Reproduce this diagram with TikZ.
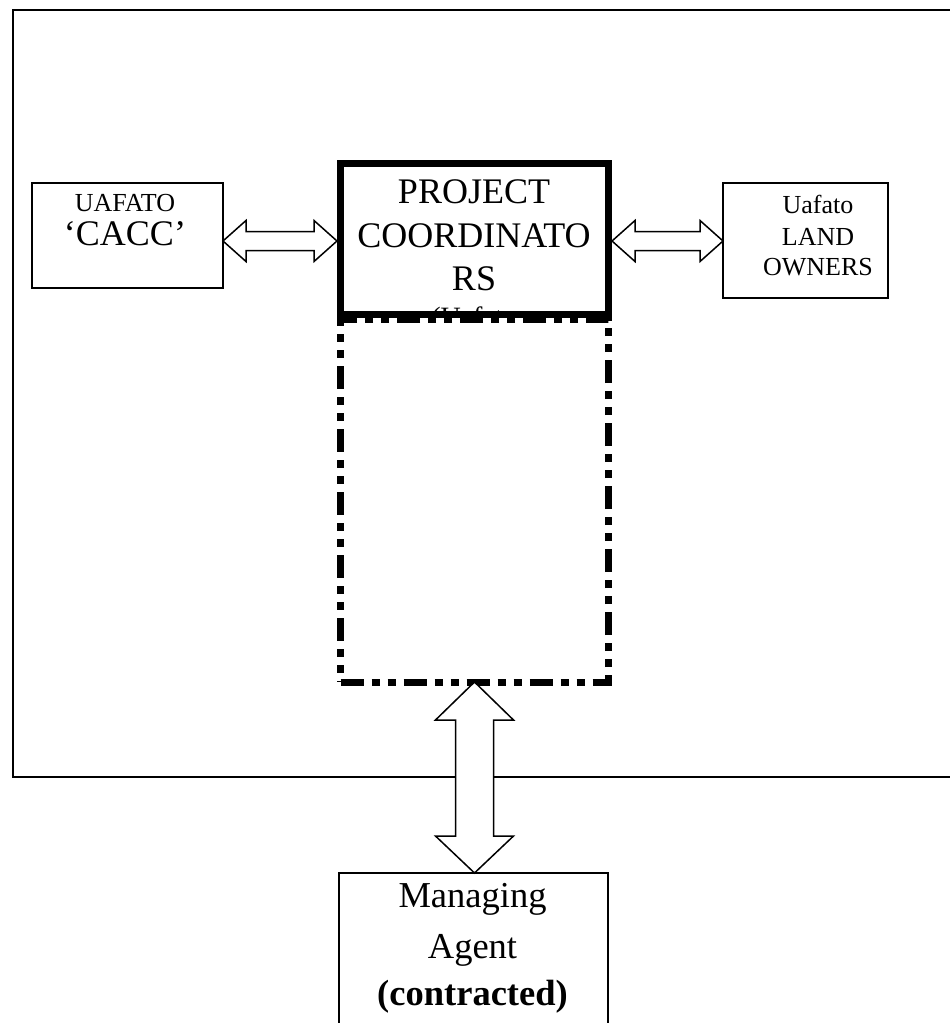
\documentclass[tikz,border=0pt]{standalone}
\usepackage{fontspec}
\setmainfont{Liberation Serif}
\usetikzlibrary{calc}
\newcommand\fsz[1]{\fontsize{#1}{#1}\selectfont}
\tikzset{
  box/.style={draw, line width=1.5pt, inner sep=0pt, outer sep=0pt},
  thickbox/.style={draw, line width=7pt, inner sep=0pt, outer sep=0pt},
  dashbox/.style={draw, line width=7pt, inner sep=0pt, outer sep=0pt,
     dash pattern=on 23pt off 8pt on 8pt off 8pt on 8pt off 8pt},
  txt/.style={inner sep=0pt, outer sep=0pt, anchor=base},
  arrowshape/.style={draw, line width=1.5pt, fill=white, line join=miter},
}
\newcommand\harrowLR[3]{%
  \draw[arrowshape] let \p1=(#1), \p2=(#2), \p3=(0,#3) in
   (\x1,\y3) -- (\x1+23pt,\y3+20.5pt) -- (\x1+23pt,\y3+9.5pt) -- (\x2-23pt,\y3+9.5pt)
   -- (\x2-23pt,\y3+20.5pt) -- (\x2,\y3) -- (\x2-23pt,\y3-20.5pt) -- (\x2-23pt,\y3-9.5pt)
   -- (\x1+23pt,\y3-9.5pt) -- (\x1+23pt,\y3-20.5pt) -- cycle;}
\newcommand\varrowTB[2]{%
  \draw[arrowshape] let \p1=(#1), \p2=(#2) in
   (\x1,\y1) -- (\x1+39pt,\y1-38pt) -- (\x1+19pt,\y1-38pt) -- (\x1+19pt,\y2+37pt)
   -- (\x1+39pt,\y2+37pt) -- (\x1,\y2) -- (\x1-39pt,\y2+37pt) -- (\x1-19pt,\y2+37pt)
   -- (\x1-19pt,\y1-38pt) -- (\x1-39pt,\y1-38pt) -- cycle;}
\begin{document}
\begin{tikzpicture}[x=1pt,y=-1pt]
\useasboundingbox (0,0) rectangle (950,1023);
\clip (0,0) rectangle (950,1023);
\fill[white] (0,0) rectangle (950,1023);
% outer frame
\draw[line width=2pt] (960,10) -- (13,10) -- (13,777) -- (960,777);
% boxes
\node[box, minimum width=191pt, minimum height=105pt] (cacc) at (127.5,235.5) {};
\node[box, minimum width=165pt, minimum height=115pt] (land) at (805.5,240.5) {};
\node[dashbox, minimum width=268pt, minimum height=362.5pt] (lower) at (474.5,500.75) {};
\node[thickbox, minimum width=268pt, minimum height=151pt] (proj) at (474.5,239) {};
\node[box, minimum width=269pt, minimum height=200pt] (mgr) at (473.5,973) {};
% texts
\node[txt, font=\fsz{26}] (t1) at (125,211) {UAFATO};
\node[txt, font=\fsz{36}] (t2) at (125,245) {‘CACC’};
\node[txt, font=\fsz{26}] (t3) at (818,213) {Uafato};
\node[txt, font=\fsz{26}] (t4) at (818,245) {LAND};
\node[txt, font=\fsz{26}] (t5) at (818,275) {OWNERS};
\node[txt, font=\fsz{36}] (t6) at (474,203) {PROJECT};
\node[txt, font=\fsz{36}] (t7) at (474,247) {COORDINATO};
\node[txt, font=\fsz{36}] (t8) at (474,290) {RS};
\begin{scope}
\clip (344,167) rectangle (605,311);
\node[txt, font=\fsz{28}] (t9) at (474,326) {(Uafato};
\end{scope}
\node[txt, font=\fsz{36.5}] (t10) at (472.5,907) {Managing};
\node[txt, font=\fsz{36.5}] (t11) at (472.5,958) {Agent};
\node[txt, font=\fsz{36.5}\bfseries] (t12) at (472.5,1005) {(contracted)};
% arrows
\coordinate (pw) at ([xshift=-3.5pt]proj.west);
\coordinate (pe) at ([xshift=3.5pt]proj.east);
\harrowLR{cacc.east}{pw}{241}
\harrowLR{pe}{land.west}{241}
\coordinate (ls) at (lower.south);
\varrowTB{ls}{mgr.north}
\end{tikzpicture}
\end{document}
